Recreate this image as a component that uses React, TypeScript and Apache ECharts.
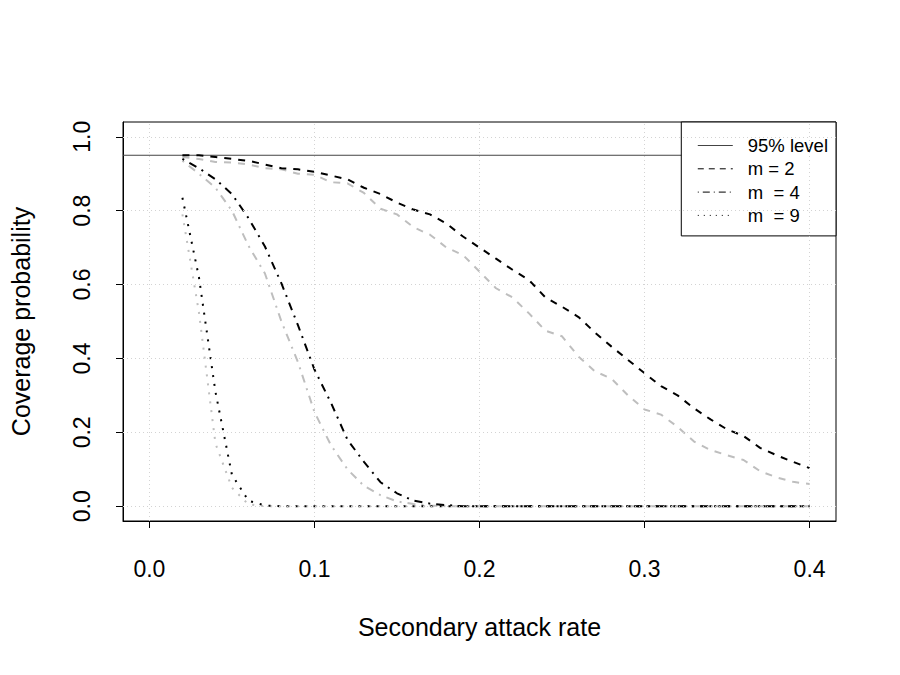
import { useEffect, useRef } from "react";
import * as echarts from "echarts";

// Secondary attack rate grid
const attackRate = [
  0.02, 0.03, 0.04, 0.05, 0.06, 0.07, 0.08, 0.09, 0.1, 0.11, 0.12, 0.13, 0.14,
  0.15, 0.16, 0.17, 0.18, 0.19, 0.2, 0.21, 0.22, 0.23, 0.24, 0.25, 0.26, 0.27,
  0.28, 0.29, 0.3, 0.31, 0.32, 0.33, 0.34, 0.35, 0.36, 0.37, 0.38, 0.39, 0.4,
];

// Coverage probability, black curves
const coverM2 = [
  0.95, 0.95, 0.945, 0.94, 0.935, 0.925, 0.915, 0.912, 0.905, 0.895, 0.885,
  0.862, 0.845, 0.822, 0.803, 0.79, 0.765, 0.73, 0.7, 0.67, 0.64, 0.612, 0.565,
  0.54, 0.512, 0.47, 0.432, 0.396, 0.36, 0.325, 0.3, 0.265, 0.235, 0.208, 0.19,
  0.158, 0.138, 0.12, 0.103,
];
const coverM4 = [
  0.94, 0.915, 0.885, 0.845, 0.78, 0.703, 0.603, 0.49, 0.37, 0.28, 0.18, 0.12,
  0.065, 0.035, 0.015, 0.007, 0.003, 0, 0, 0, 0, 0, 0, 0, 0, 0, 0, 0, 0, 0, 0,
  0, 0, 0, 0, 0, 0, 0, 0,
];
const coverM9 = [
  0.835, 0.62, 0.31, 0.085, 0.015, 0.002, 0, 0, 0, 0, 0, 0, 0, 0, 0, 0, 0, 0,
  0, 0, 0, 0, 0, 0, 0, 0, 0, 0, 0, 0, 0, 0, 0, 0, 0, 0, 0, 0, 0,
];

// Coverage probability, grey curves
const coverM2Grey = [
  0.945, 0.94, 0.932, 0.93, 0.925, 0.915, 0.912, 0.9, 0.897, 0.877, 0.874,
  0.848, 0.805, 0.79, 0.755, 0.735, 0.7, 0.68, 0.635, 0.59, 0.565, 0.522,
  0.475, 0.46, 0.405, 0.365, 0.345, 0.3, 0.262, 0.248, 0.215, 0.175, 0.152,
  0.138, 0.125, 0.095, 0.078, 0.066, 0.06,
];
const coverM4Grey = [
  0.935, 0.9, 0.862, 0.8, 0.705, 0.63, 0.5, 0.39, 0.255, 0.165, 0.1, 0.055,
  0.03, 0.013, 0.006, 0.002, 0, 0, 0, 0, 0, 0, 0, 0, 0, 0, 0, 0, 0, 0, 0, 0, 0,
  0, 0, 0, 0, 0, 0,
];
const coverM9Grey = [
  0.79, 0.525, 0.17, 0.05, 0.005, 0, 0, 0, 0, 0, 0, 0, 0, 0, 0, 0, 0, 0, 0, 0,
  0, 0, 0, 0, 0, 0, 0, 0, 0, 0, 0, 0, 0, 0, 0, 0, 0, 0, 0,
];

const nominalLevel = 0.95;
const xRange = [-0.016, 0.416];
const yRange = [-0.04, 1.04];
const xTicks = [0, 0.1, 0.2, 0.3, 0.4];
const yTicks = [0, 0.2, 0.4, 0.6, 0.8, 1.0];

const FONT = "'Liberation Sans', Arial, Helvetica, sans-serif";
const GREY = "#bebebe";
const DASHED = [7, 7];
const DASHDOT = [2, 6, 8, 6];
const DOTTED = [2, 7];

export default function App() {
  const ref = useRef<HTMLDivElement>(null);

  useEffect(() => {
    const chart = echarts.init(ref.current!, null, { renderer: "svg" });
    const pairs = (ys: number[]) => attackRate.map((x, i) => [x, ys[i]]);
    const curve = (
      name: string,
      ys: number[],
      color: string,
      type: number[],
      z: number
    ) => ({
      type: "line",
      name,
      data: pairs(ys),
      symbol: "none",
      silent: true,
      z,
      itemStyle: { color },
      lineStyle: { color, width: 2, type, cap: "butt" },
    });

    const blackLine = { color: "#000", width: 1 };

    chart.setOption({
      animation: false,
      backgroundColor: "#ffffff",
      textStyle: { fontFamily: FONT },
      grid: {
        left: 122,
        top: 122,
        width: 714,
        height: 399,
        show: true,
        borderColor: "#000",
        borderWidth: 1,
        backgroundColor: "transparent",
      },
      xAxis: {
        type: "value",
        min: xRange[0],
        max: xRange[1],
        axisLine: { show: true, onZero: false, lineStyle: blackLine },
        axisTick: {
          show: true,
          inside: false,
          customValues: xTicks,
          length: 7,
          lineStyle: blackLine,
        },
        axisLabel: {
          customValues: xTicks,
          formatter: (v: number) => v.toFixed(1),
          margin: 36,
          fontSize: 23,
          color: "#000",
          fontFamily: FONT,
        },
        splitLine: { show: false },
        name: "Secondary attack rate",
        nameLocation: "middle",
        nameGap: 93,
        nameTextStyle: { fontSize: 25, color: "#000", fontFamily: FONT },
      },
      yAxis: {
        type: "value",
        min: yRange[0],
        max: yRange[1],
        axisLine: { show: true, onZero: false, lineStyle: blackLine },
        axisTick: {
          show: true,
          inside: false,
          customValues: yTicks,
          length: 7,
          lineStyle: blackLine,
        },
        axisLabel: {
          customValues: yTicks,
          formatter: (v: number) => v.toFixed(1),
          rotate: 90,
          margin: 30,
          fontSize: 23,
          color: "#000",
          fontFamily: FONT,
        },
        splitLine: { show: false },
        name: "Coverage probability",
        nameLocation: "middle",
        nameGap: 90,
        nameTextStyle: { fontSize: 25, color: "#000", fontFamily: FONT },
      },
      legend: {
        data: [
          { name: "95% level" },
          { name: "m = 2", lineStyle: { type: [6, 5] } },
          { name: "m  = 4", lineStyle: { type: [1, 4, 7, 4] } },
          { name: "m  = 9", lineStyle: { type: [1, 5] } },
        ],
        orient: "vertical",
        right: 64,
        top: 122,
        backgroundColor: "#fff",
        borderColor: "#000",
        borderWidth: 1,
        borderRadius: 0,
        padding: [14, 8, 11, 16],
        itemWidth: 35,
        itemHeight: 14,
        itemGap: 4.3,
        selectedMode: false,
        itemStyle: { opacity: 0, borderWidth: 0 },
        lineStyle: { width: 1 },
        textStyle: {
          fontSize: 18.5,
          color: "#000",
          fontFamily: FONT,
          padding: [0, 0, 0, 10],
        },
      },
      series: [
        {
          type: "line",
          name: "reference grid",
          data: [],
          silent: true,
          z: 1,
          markLine: {
            silent: true,
            symbol: "none",
            label: { show: false },
            lineStyle: { color: "#d3d3d3", width: 1, type: [1, 3] },
            data: [
              ...xTicks.map((v) => ({ xAxis: v })),
              ...yTicks.map((v) => ({ yAxis: v })),
            ],
          },
        },
        {
          type: "line",
          name: "95% level",
          data: [
            [xRange[0], nominalLevel],
            [xRange[1], nominalLevel],
          ],
          symbol: "none",
          silent: true,
          z: 2,
          itemStyle: { color: "#444" },
          lineStyle: { color: "#444", width: 1, type: "solid" },
        },
        curve("m = 2 (grey)", coverM2Grey, GREY, DASHED, 3),
        curve("m = 4 (grey)", coverM4Grey, GREY, DASHDOT, 3),
        curve("m = 9 (grey)", coverM9Grey, GREY, DOTTED, 3),
        curve("m = 2", coverM2, "#000", DASHED, 4),
        curve("m  = 4", coverM4, "#000", DASHDOT, 4),
        curve("m  = 9", coverM9, "#000", DOTTED, 4),
      ],
    });

    return () => chart.dispose();
  }, []);

  return (
    <div
      ref={ref}
      style={{ position: "absolute", left: 0, top: 0, width: 900, height: 675 }}
    />
  );
}
